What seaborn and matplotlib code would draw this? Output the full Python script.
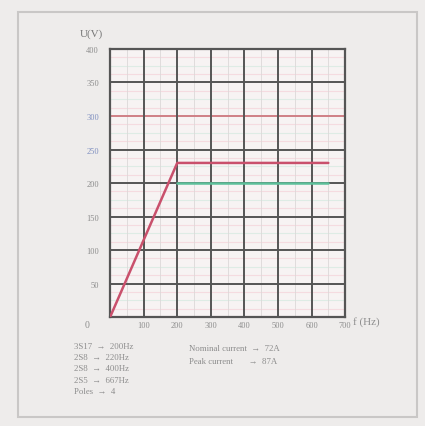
import numpy as np
import pandas as pd
import matplotlib
matplotlib.use("Agg")
import matplotlib.pyplot as plt
import seaborn as sns

# data
freq_nominal = [0, 200, 650]
volt_nominal = [0, 230, 230]
freq_peak = [200, 650]
volt_peak = [200, 200]

x_ticks = [100, 200, 300, 400, 500, 600, 700]
y_ticks = [50, 100, 150, 200, 250, 300, 350, 400]

legend_left = ["3S17  →  200Hz", "2S8  →  220Hz", "2S8  →  400Hz", "2S5  →  667Hz", "Poles  →  4"]
legend_right = ["Nominal current  →  72A", "Peak current       →  87A"]

sns.set_style("white")
plt.rcParams["font.family"] = ["Liberation Serif", "DejaVu Serif"]

fig = plt.figure(figsize=(4.25, 4.27), dpi=100)
fig.patch.set_facecolor("#eeeceb")
ax = fig.add_axes([0.259, 0.255, 0.553, 0.628])
ax.set_facecolor("#f7f3f3")

# outer frame of the page
frame = plt.Rectangle((0.042, 0.02), 0.94, 0.95, transform=fig.transFigure,
                      fill=False, edgecolor="#c9c7c6", linewidth=1.5)
fig.add_artist(frame)

# faint coloured minor lines
for i, v in enumerate(np.arange(12.5, 400, 12.5)):
    if v % 50 == 0:
        continue
    ax.axhline(v, color="#f4b8c4" if i % 2 == 0 else "#b9e3d2", lw=0.8, alpha=0.4, zorder=0)
for f in np.arange(50, 700, 100):
    ax.axvline(f, color="#dcd8d8", lw=0.6, zorder=0)

# major grid
for v in y_ticks[:-1]:
    ax.axhline(v, color="#cf7f86" if v == 300 else "#555555", lw=1.4, zorder=1)
for f in x_ticks[:-1]:
    ax.axvline(f, color="#555555", lw=1.4, zorder=1)

df_nom = pd.DataFrame({"f": freq_nominal, "U": volt_nominal})
df_peak = pd.DataFrame({"f": freq_peak, "U": volt_peak})
sns.lineplot(data=df_nom, x="f", y="U", ax=ax, color="#c9506c", lw=1.8, zorder=3)
sns.lineplot(data=df_peak, x="f", y="U", ax=ax, color="#5cc09a", lw=1.8, zorder=3)

ax.set_xlim(0, 700)
ax.set_ylim(0, 400)
ax.set_xticks(x_ticks)
ax.set_yticks(y_ticks)
ax.set_xlabel("")
ax.set_ylabel("")
ax.tick_params(axis="x", length=0, labelsize=6, labelcolor="#8c8c8c", pad=3)
ax.tick_params(axis="y", length=0, labelsize=6, labelcolor="#8c8c8c", pad=8)
for lab in ax.get_yticklabels():
    if lab.get_text() in ("250", "300"):
        lab.set_color("#7f8fc0")
for s in ax.spines.values():
    s.set_color("#555555")
    s.set_linewidth(1.6)

fig.text(0.198, 0.232, "0", fontsize=7, color="#8c8c8c")
fig.text(0.188, 0.915, "U(V)", fontsize=8, color="#777777")
fig.text(0.830, 0.240, "f (Hz)", fontsize=8, color="#8c8c8c")

for i, t in enumerate(legend_left):
    fig.text(0.175, 0.182 - i * 0.026, t, fontsize=6.3, color="#8c8c8c")
for i, t in enumerate(legend_right):
    fig.text(0.445, 0.178 - i * 0.030, t, fontsize=6.3, color="#8c8c8c")

fig.savefig("out.png", dpi=100, facecolor=fig.get_facecolor())
